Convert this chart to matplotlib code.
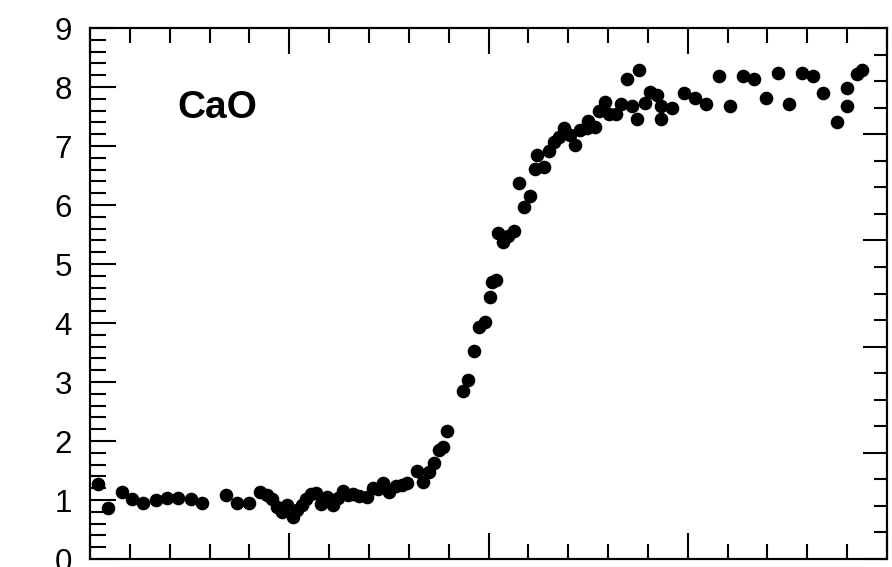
import matplotlib
matplotlib.use("Agg")
import matplotlib.pyplot as plt
from matplotlib.ticker import MultipleLocator, NullFormatter

plt.rcParams['font.family'] = ['Liberation Sans', 'DejaVu Sans']

# distance (arbitrary units, 0-400) and CaO concentration
distance = [3.9, 9.0, 15.9, 21.1, 26.6, 33.1, 38.6, 44.2, 50.7, 56.2,
            68.3, 73.8, 79.8, 85.3, 88.8, 91.3, 93.9, 96.4, 99.0, 101.7,
            104.0, 106.2, 108.4, 110.8, 113.4, 115.9, 118.9, 122.0, 124.7, 127.1,
            129.6, 132.1, 135.2, 138.9, 141.8, 144.7, 147.2, 150.2, 153.6, 156.6,
            159.2, 164.1, 167.3, 170.3, 172.6, 175.3, 177.0, 179.3, 187.4, 189.9,
            192.7, 195.4, 198.2, 200.8, 201.8, 204.0, 204.6, 207.4, 210.0, 212.8,
            215.5, 217.8, 220.8, 223.3, 224.5, 227.9, 230.5, 232.9, 235.5, 237.9,
            240.9, 243.4, 245.9, 249.3, 250.1, 253.5, 255.5, 258.5, 260.6, 264.0,
            266.3, 269.4, 271.9, 274.4, 275.7, 278.5, 281.1, 284.4, 286.4, 286.4,
            291.9, 298.3, 303.6, 309.2, 315.7, 321.2, 327.6, 333.4, 339.1, 345.1,
            350.8, 357.2, 362.7, 368.0, 374.8, 380.1, 380.1, 385.1, 387.3]
cao = [1.27, 0.86, 1.14, 1.02, 0.95, 1.00, 1.03, 1.03, 1.02, 0.95,
       1.09, 0.95, 0.95, 1.14, 1.09, 1.02, 0.88, 0.80, 0.92, 0.72,
       0.83, 0.92, 1.02, 1.10, 1.12, 0.94, 1.05, 0.92, 1.03, 1.15,
       1.08, 1.10, 1.07, 1.05, 1.20, 1.19, 1.29, 1.14, 1.24, 1.25,
       1.28, 1.50, 1.31, 1.47, 1.63, 1.85, 1.90, 2.17, 2.85, 3.03,
       3.53, 3.94, 4.01, 4.44, 4.70, 4.73, 5.52, 5.38, 5.47, 5.56,
       6.38, 5.97, 6.15, 6.61, 6.85, 6.65, 6.92, 7.06, 7.16, 7.30,
       7.19, 7.01, 7.27, 7.30, 7.43, 7.33, 7.60, 7.75, 7.55, 7.54,
       7.71, 8.14, 7.68, 7.46, 8.28, 7.73, 7.92, 7.86, 7.68, 7.46,
       7.64, 7.90, 7.81, 7.72, 8.19, 7.68, 8.19, 8.13, 7.82, 8.23,
       7.72, 8.23, 8.19, 7.90, 7.41, 7.99, 7.68, 8.22, 8.28]

y_ticks = [0, 1, 2, 3, 4, 5, 6, 7, 8, 9]

fig = plt.figure(figsize=(8.92, 5.67), dpi=100)
ax = fig.add_axes([0.1009, 0.0141, 0.8935, 0.9365])

ax.plot(distance, cao, 'o', color='black', markersize=8.8, clip_on=False)

ax.set_xlim(0, 400)
ax.set_ylim(0, 9)
ax.xaxis.set_major_locator(MultipleLocator(100))
ax.xaxis.set_minor_locator(MultipleLocator(20))
ax.set_yticks(y_ticks)
ax.yaxis.set_minor_locator(MultipleLocator(0.2))
ax.xaxis.set_major_formatter(NullFormatter())

ax.tick_params(which='both', direction='in', top=True, bottom=True,
               left=True, right=False, width=1.5, colors='black')
ax.tick_params(axis='x', which='major', length=18.5)
ax.tick_params(axis='x', which='minor', length=10.8)
ax.tick_params(axis='y', which='major', length=18.5, labelsize=22.5, pad=13)
ax.tick_params(axis='y', which='minor', length=11.5)
for s in ax.spines.values():
    s.set_linewidth(1.5)

# right hand axis, labels fall outside the picture
ax2 = ax.twinx()
ax2.set_ylim(0, 5)
ax2.yaxis.set_major_locator(MultipleLocator(1))
ax2.yaxis.set_minor_locator(MultipleLocator(0.25))
ax2.yaxis.set_major_formatter(NullFormatter())
ax2.tick_params(which='both', direction='in', width=1.5)
ax2.tick_params(which='major', length=17)
ax2.tick_params(which='minor', length=9.5)
for s in ax2.spines.values():
    s.set_linewidth(1.5)

ax.text(44, 7.64, 'CaO', ha='left', va='center', fontsize=28,
        fontweight='bold')

fig.savefig('out.png', dpi=100)
